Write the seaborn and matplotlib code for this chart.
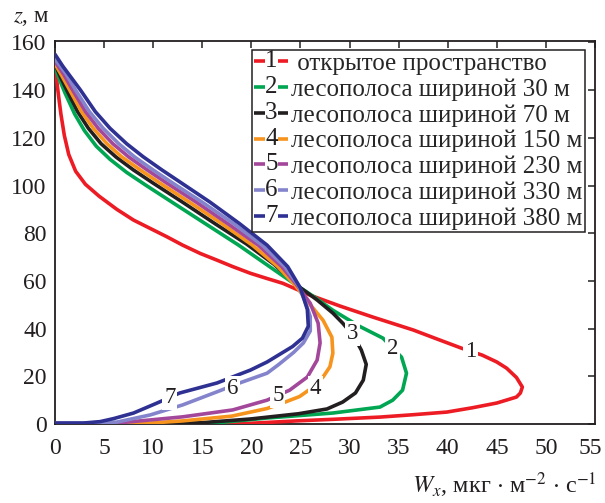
import numpy as np
import pandas as pd
import matplotlib
matplotlib.use("Agg")
import matplotlib.pyplot as plt
import matplotlib.transforms as mtransforms
import seaborn as sns
from matplotlib.lines import Line2D
from matplotlib.text import Text
from matplotlib.legend_handler import HandlerBase

# ---------------- data (W_x, z) ----------------
w1 = [0, 0.15, 0.35, 0.6, 0.95, 1.4, 2.1, 3.1, 4.5, 6.3, 8.0, 9.7, 11.4, 13.0, 14.8, 16.5, 18.1, 19.9, 21.6, 23.2, 24.6, 26.0, 29.0, 32.4, 36.5, 39.0, 41.4, 43.5, 45.0, 46.0, 47.0, 47.6, 47.4, 47.0, 45.0, 42.5, 39.9, 36.5, 33.1, 28.5, 24.6, 19.9, 10.0, 0.0]
z1 = [151.8, 145, 138, 130, 121, 113, 106, 100.5, 95.5, 90, 85.5, 82, 78.5, 75, 71.5, 68.7, 66, 63.2, 61, 59, 56.5, 54, 49.5, 44.8, 39.4, 35.5, 31.8, 28.9, 26, 23.4, 19.5, 15.5, 13, 11.3, 8.8, 6.8, 5.0, 3.9, 2.9, 2.0, 1.3, 0.3, 0.0, 0.0]

w2 = [0, 0.4, 1.0, 2.0, 3.0, 4.2, 5.6, 7.3, 9.3, 12.3, 15.5, 18.7, 21.5, 24.3, 26.5, 28.3, 31.0, 33.4, 35.3, 35.8, 35.4, 34.4, 33.1, 28.3, 21.6, 16.5, 10.0]
z2 = [150, 145, 139, 130, 123, 116.5, 111, 105.5, 100, 92, 83.5, 75, 67, 59, 53, 47.7, 41, 36, 28, 21.3, 14.2, 10, 7.1, 4.6, 2.5, 0.5, 0.0]

w3 = [0, 0.5, 1.2, 2.3, 3.4, 4.7, 6.2, 8.0, 10.0, 13.0, 16.3, 19.5, 22.3, 24.9, 26.7, 28.3, 29.3, 30.4, 31.2, 31.7, 31.4, 30.6, 29.3, 27.7, 24.8, 19.9, 14.8, 10.0]
z3 = [151, 146, 140, 131, 124, 117.5, 112, 106.5, 101, 93, 84, 75.5, 67, 57.4, 52, 46.5, 42.3, 37, 31, 25, 18.4, 13, 9.2, 6.3, 4.3, 2.1, 0.5, 0.0]

w4 = [0, 0.7, 1.5, 2.7, 3.9, 5.3, 6.8, 8.7, 10.7, 13.7, 17.0, 20.1, 22.7, 24.5, 26.0, 27.3, 28.2, 28.3, 28.0, 27.3, 26.3, 24.9, 23.0, 21.6, 18.0, 13.0, 9.7, 6.0]
z4 = [151, 146, 140, 131, 124, 117.5, 112, 106.5, 101, 93, 84, 75, 66, 58, 50, 43.5, 36.4, 29.7, 24, 19.7, 15.5, 11.5, 8.5, 6.5, 3.3, 1.3, 0.4, 0.0]

w5 = [0, 0.9, 1.8, 3.1, 4.4, 5.9, 7.5, 9.4, 11.4, 14.4, 17.6, 20.7, 23.1, 24.6, 26.0, 26.8, 27.0, 26.7, 25.7, 23.9, 21.6, 18.1, 13.0, 9.7, 6.3, 3.0]
z5 = [152, 146.5, 140, 131, 124, 117.5, 112, 106.5, 101, 93, 84, 75, 66, 58.5, 50.6, 42.3, 34, 26.8, 19.7, 14.2, 10, 5.9, 3.0, 1.7, 0.4, 0.0]

w6 = [0, 1.1, 2.1, 3.5, 4.9, 6.5, 8.1, 10.0, 12.0, 15.0, 18.2, 21.1, 23.4, 24.8, 25.6, 26.0, 26.0, 25.3, 24.3, 22.8, 21.6, 18.8, 16.5, 13.0, 9.7, 6.3, 2.9, 0.0]
z6 = [153, 147, 140, 131, 124, 117.5, 112, 106.5, 101, 93, 84, 75, 66, 58, 50, 45, 39, 34, 30, 25, 21.3, 17.2, 13.5, 8, 3.8, 0.8, 0.4, 0.4]

w7 = [0, 0.8, 1.7, 2.6, 4.1, 5.6, 7.3, 9.0, 10.9, 12.9, 15.8, 18.8, 21.6, 23.7, 25.0, 25.7, 25.8, 25.2, 24.2, 23.2, 21.6, 19.9, 16.5, 12.7, 10.4, 8.0, 6.0, 4.6, 2.9, 0.0]
z7 = [155, 150, 145, 140, 131, 124, 117.5, 112, 106.5, 101, 93, 84, 75, 66, 57, 48, 41, 36, 32.5, 30, 26, 22.6, 17.2, 13, 8.8, 4.6, 2.3, 1.0, 0.4, 0.4]

curve_ids = ["1", "2", "3", "4", "5", "6", "7"]
legend_labels = [
    " открытое пространство",
    "лесополоса шириной 30 м",
    "лесополоса шириной 70 м",
    "лесополоса шириной 150 м",
    "лесополоса шириной 230 м",
    "лесополоса шириной 330 м",
    "лесополоса шириной 380 м",
]
# in-plot label anchor positions (W_x, z)
lab_w = [42.3, 34.4, 30.3, 26.5, 22.7, 18.1, 11.7]
lab_z = [30.6, 31.8, 38.0, 15.0, 12.0, 15.0, 11.0]

x_ticks = [0, 5, 10, 15, 20, 25, 30, 35, 40, 45, 50, 55]
y_ticks = [0, 20, 40, 60, 80, 100, 120, 140, 160]

colors = ["#ed1c24", "#00a651", "#231f20", "#f7941d", "#a3479a", "#8484cc", "#2e3192"]

# ---------------- build frame ----------------
ws = [w1, w2, w3, w4, w5, w6, w7]
zs = [z1, z2, z3, z4, z5, z6, z7]
frames = []
for cid, w, z in zip(curve_ids, ws, zs):
    frames.append(pd.DataFrame({"W": w, "z": z, "curve": cid}))
df = pd.concat(frames, ignore_index=True)

sns.set_style("white")
plt.rcParams["font.family"] = ["Liberation Serif", "DejaVu Serif"]
plt.rcParams["mathtext.fontset"] = "stix"

fig = plt.figure(figsize=(6.05, 5.03), dpi=100)
ax = fig.add_axes([55 / 605, 1 - 424 / 503, 540 / 605, 383 / 503])

for cid, col in zip(curve_ids, colors):
    sub = df[df["curve"] == cid]
    sns.lineplot(data=sub, x="W", y="z", sort=False, estimator=None,
                 color=col, lw=2.6, ax=ax, legend=False, zorder=3)

for cid, lw_, lz_ in zip(curve_ids, lab_w, lab_z):
    ax.text(lw_, lz_, cid, fontsize=16.5, ha="center", va="center", color="#231f20",
            zorder=5, bbox=dict(boxstyle="square,pad=0.08", fc="white", ec="none"))

ax.set_xlim(0, 55)
ax.set_ylim(0, 160.6)
ax.set_xticks(x_ticks)
ax.set_yticks(y_ticks)
ax.set_xticklabels([str(t) for t in x_ticks])
ax.set_yticklabels([str(t) for t in y_ticks])
ax.tick_params(direction="in", length=5, width=1.1, top=True, right=True,
               labelsize=17, colors="#231f20", pad=6)
ax.tick_params(axis="x", pad=10)
for s in ax.spines.values():
    s.set_color("#231f20")
    s.set_linewidth(1.3)
ax.set_xlabel("")
ax.set_ylabel("")
# last x tick label shifted slightly left, as in the original
last = ax.get_xticklabels()[-1]
last.set_transform(last.get_transform() + mtransforms.ScaledTranslation(-5 / 100, 0, fig.dpi_scale_trans))

fig.text(13 / 605, 1 - 17 / 503, "$z$, м", fontsize=16.5, ha="left", va="center", color="#231f20")
fig.text(597 / 605, 1 - 493 / 503, r"$W_x$, мкг $\cdot$ м$^{-2}$ $\cdot$ с$^{-1}$",
         fontsize=17.5, ha="right", va="baseline", color="#231f20")


class NumHandler(HandlerBase):
    def __init__(self, num, color):
        super().__init__()
        self.num = num
        self.color = color

    def create_artists(self, legend, orig_handle, xdescent, ydescent,
                       width, height, fontsize, trans):
        y = height / 2 - ydescent
        x0 = -xdescent
        seg = width * 0.31
        l1 = Line2D([x0, x0 + seg], [y, y], color=self.color, lw=2.6,
                    solid_capstyle="butt", transform=trans)
        t = Text(x0 + width / 2, y, self.num, ha="center", va="center",
                 fontsize=fontsize, color="#231f20", transform=trans)
        l2 = Line2D([x0 + width - seg, x0 + width], [y, y], color=self.color, lw=2.6,
                    solid_capstyle="butt", transform=trans)
        return [l1, t, l2]


handles = [Line2D([], [], color=c) for c in colors]
hmap = {h: NumHandler(cid, c) for h, cid, c in zip(handles, curve_ids, colors)}
leg = ax.legend(handles, legend_labels, handler_map=hmap, loc="upper right",
                bbox_to_anchor=(0.9815, 0.9765), borderaxespad=0, fontsize=18,
                frameon=True, fancybox=False, edgecolor="#231f20", framealpha=1,
                handlelength=1.35, handletextpad=0.12, labelspacing=0.13,
                borderpad=0.1)
leg.get_frame().set_linewidth(1.1)
leg.set_zorder(6)

fig.savefig("out.png", dpi=100)
